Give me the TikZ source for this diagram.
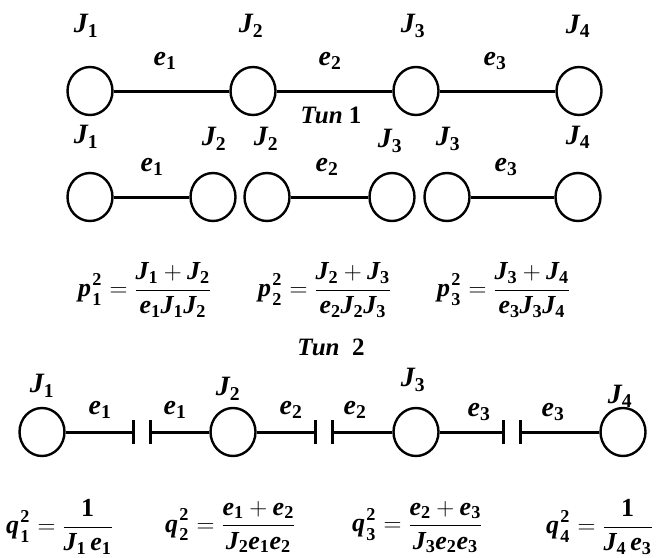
\documentclass[tikz,border=0pt]{standalone}
\usepackage{amsmath}
\usepackage{fontspec}
\setmainfont{Liberation Serif}
\usetikzlibrary{shapes.geometric}
\newcommand\bi[1]{\text{\bfseries\itshape #1}}
\newcommand\bu[1]{\text{\bfseries #1}}
\newcommand\J[1]{\bi{J}_{\bu{#1}}}
\newcommand\E[1]{\bi{e}_{\bu{#1}}}
\newcommand\sq[2]{\bi{#1}\genfrac{}{}{0pt}{1}{\bu{2}}{\bu{#2}}}
\begin{document}
\begin{tikzpicture}[x=1pt,y=-1pt,
  disk/.style={draw, line width=2.4pt, ellipse, minimum width=45pt, minimum height=48pt, inner sep=0pt},
  lbl/.style={inner sep=0pt, font=\fontsize{28}{30}\selectfont},
  frm/.style={inner sep=0pt, anchor=west, font=\fontsize{26}{30}\selectfont},
  link/.style={line width=3pt},
  barline/.style={line width=3pt}]
\useasboundingbox (0,0) rectangle (661,557);
% ---------- Row 1
\node[disk] (a1) at (90,91) {};
\node[disk] (a2) at (253,91) {};
\node[disk] (a3) at (416,91) {};
\node[disk] (a4) at (579,91) {};
\draw[link] (a1) -- (a2);
\draw[link] (a2) -- (a3);
\draw[link] (a3) -- (a4);
\node[lbl] (aj1) at (86,26) {$\J1$};
\node[lbl] (aj2) at (251,26) {$\J2$};
\node[lbl] (aj3) at (413,26) {$\J3$};
\node[lbl] (aj4) at (578,26) {$\J4$};
\node[lbl] (ae1) at (165,61) {$\E1$};
\node[lbl] (ae2) at (330,61) {$\E2$};
\node[lbl] (ae3) at (495,61) {$\E3$};
% ---------- Tun 1
\node[lbl, font=\fontsize{25}{28}\selectfont] (tun1) at (331,115) {\bfseries\itshape Tun \upshape 1};
% ---------- Row 2
\node[disk] (b1) at (90,197) {};
\node[disk] (b2) at (213,197) {};
\node[disk] (b3) at (267,197) {};
\node[disk] (b4) at (392,197) {};
\node[disk] (b5) at (447,197) {};
\node[disk] (b6) at (578,197) {};
\draw[link] (b1) -- (b2);
\draw[link] (b3) -- (b4);
\draw[link] (b5) -- (b6);
\node[lbl] (bj1) at (86,137) {$\J1$};
\node[lbl] (bj2) at (214,139) {$\J2$};
\node[lbl] (bj2b) at (266,139) {$\J2$};
\node[lbl] (bj3) at (390,141) {$\J3$};
\node[lbl] (bj3b) at (448,139) {$\J3$};
\node[lbl] (bj4) at (578,137) {$\J4$};
\node[lbl] (be1) at (152,167) {$\E1$};
\node[lbl] (be2) at (327,167) {$\E2$};
\node[lbl] (be3) at (506,167) {$\E3$};
% ---------- p formulas
\node[frm] (p1) at (78,290) {$\sq{p}{1} = \dfrac{\J1 + \J2}{\E1\J1\J2}$};
\node[frm] (p2) at (258,290) {$\sq{p}{2} = \dfrac{\J2 + \J3}{\E2\J2\J3}$};
\node[frm] (p3) at (437,290) {$\sq{p}{3} = \dfrac{\J3 + \J4}{\E3\J3\J4}$};
% ---------- Tun 2
\node[lbl, font=\fontsize{25}{28}\selectfont] (tun2) at (331,347) {\bfseries\itshape Tun\ \ \upshape 2};
% ---------- Row 3
\node[disk] (c1) at (42,432) {};
\node[disk] (c2) at (233,432) {};
\node[disk] (c3) at (416,432) {};
\node[disk] (c4) at (623,432) {};
\coordinate (k1) at (133,432);
\coordinate (k2) at (150,432);
\coordinate (k3) at (315,432);
\coordinate (k4) at (332,432);
\coordinate (k5) at (503,432);
\coordinate (k6) at (520,432);
\draw[link] (c1) -- (k1);
\draw[link] (k2) -- (c2);
\draw[link] (c2) -- (k3);
\draw[link] (k4) -- (c3);
\draw[link] (c3) -- (k5);
\draw[link] (k6) -- (c4);
\foreach \k in {k1,k2,k3,k4,k5,k6}
  \draw[barline] ([yshift=-12pt]\k) -- ([yshift=12pt]\k);
\node[lbl] (cj1) at (42,386) {$\J1$};
\node[lbl] (ce1) at (100,410) {$\E1$};
\node[lbl] (ce1b) at (175,410) {$\E1$};
\node[lbl] (cj2) at (228,389) {$\J2$};
\node[lbl] (ce2) at (291,410) {$\E2$};
\node[lbl] (ce2b) at (355,410) {$\E2$};
\node[lbl] (cj3) at (413,380) {$\J3$};
\node[lbl] (ce3) at (479,412) {$\E3$};
\node[lbl] (ce3b) at (553,412) {$\E3$};
\node[lbl] (cj4) at (620,396) {$\J4$};
% ---------- q formulas
\node[frm] (q1) at (6,527) {$\sq{q}{1} = \dfrac{\bu{1}}{\J1\,\E1}$};
\node[frm] (q2) at (165,527) {$\sq{q}{2} = \dfrac{\E1 + \E2}{\J2\E1\E2}$};
\node[frm] (q3) at (352,527) {$\sq{q}{3} = \dfrac{\E2 + \E3}{\J3\E2\E3}$};
\node[frm] (q4) at (546,527) {$\sq{q}{4} = \dfrac{\bu{1}}{\J4\,\E3}$};
\end{tikzpicture}
\end{document}
